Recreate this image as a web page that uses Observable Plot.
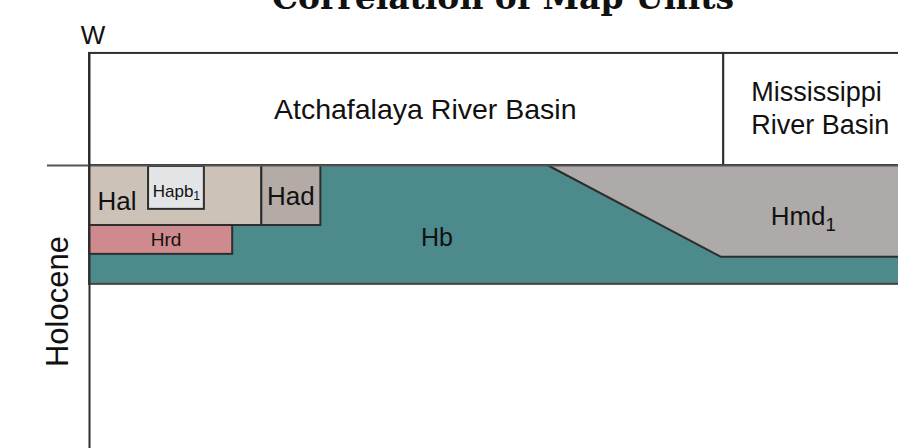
<!DOCTYPE html>
<html>
<head>
<meta charset="utf-8">
<script src="https://cdn.jsdelivr.net/npm/d3@7"></script>
<script src="https://cdn.jsdelivr.net/npm/@observablehq/plot@0.6"></script>
<style>
  html, body { margin: 0; padding: 0; background: #fff; overflow: hidden; }
</style>
</head>
<body>
<div id="chart"></div>
<script>
// ---- Data (diagram units: x = relative distance W→E, y = relative depth/age, 0 = top of Holocene units)
const unitNames = ["Hb", "Hal", "Hapb₁", "Had", "Hrd"];
const unitX1 = [0, 0, 7.3, 21.3, 0];
const unitX2 = [101, 21.3, 14.2, 28.6, 17.7];
const unitY1 = [0, 0, 0.35, 0, 21.2];
const unitY2 = [42, 21.2, 15.5, 21.2, 31.4];

// Hmd1 wedge (top and base along x)
const hmdX = [56.7, 78.0, 101];
const hmdTop = [0, 0, 0];
const hmdBase = [0, 32.2, 32.2];

// Basin header
const basinNames = ["Atchafalaya River Basin", "Mississippi\nRiver Basin"];
const basinX1 = [0, 78.4];
const basinX2 = [78.4, 101];
const headerTop = -39.6;

// Unit labels
const labelText = ["Hal", "Hapb₁", "Had", "Hrd", "Hb", "Hmd₁"];
const labelX = [0.99, 10.75, 24.9, 9.46, 42.95, 84.2];
const labelY = [15.9, 11.0, 14.1, 28.3, 28.6, 21.2];

const colors = {
  "Hb": "#4d8a8b",
  "Hal": "#cdc2b8",
  "Hapb₁": "#e3e4e6",
  "Had": "#b4aaa6",
  "Hrd": "#cf8a8d",
  "Hmd₁": "#aeaaa9"
};
const labelSize = {"Hal": 26, "Hapb₁": 17, "Had": 26, "Hrd": 19, "Hb": 25, "Hmd₁": 26};
const startAnchored = new Set(["Hal", "Hmd₁"]);

const units = unitNames.map((n, i) => ({name: n, x1: unitX1[i], x2: unitX2[i], y1: unitY1[i], y2: unitY2[i]}));
const hmd = hmdX.map((x, i) => ({x, top: hmdTop[i], base: hmdBase[i]}));
const basins = basinNames.map((n, i) => ({name: n, x1: basinX1[i], x2: basinX2[i]}));
const labels = labelText.map((t, i) => ({t, x: labelX[i], y: labelY[i]}));

const FONT = "Liberation Sans, Arial, sans-serif";
const LINE = "#2e2e2e";

const chart = Plot.plot({
  width: 898,
  height: 448,
  marginTop: 0, marginRight: 0, marginBottom: 0, marginLeft: 0,
  x: {domain: [0, 100], range: [89, 898], axis: null},
  y: {domain: [0, 100], range: [165, 448], axis: null},
  style: {fontFamily: FONT, overflow: "visible"},
  marks: [
    Plot.rect(units.filter(d => d.name === "Hb"), {x1: "x1", x2: "x2", y1: "y1", y2: "y2", fill: d => colors[d.name], stroke: "#444", strokeWidth: 2}),
    Plot.areaY(hmd, {x: "x", y1: "top", y2: "base", fill: colors["Hmd₁"], curve: "linear"}),
    Plot.line(hmd, {x: "x", y: "base", stroke: LINE, strokeWidth: 2}),
    Plot.rect(units.filter(d => d.name !== "Hb"), {x1: "x1", x2: "x2", y1: "y1", y2: "y2", fill: d => colors[d.name], stroke: LINE, strokeWidth: 2}),
    Plot.rect(basins, {x1: "x1", x2: "x2", y1: headerTop, y2: 0, fill: "white", stroke: LINE, strokeWidth: 2}),
    Plot.ruleY([0], {x1: -5.2, x2: 101, stroke: "#555", strokeWidth: 2}),
    Plot.ruleX([0], {y1: headerTop, y2: 100, stroke: LINE, strokeWidth: 2}),
    Plot.text([basins[0]], {x: 41.5, y: -16.6, text: "name", fontSize: 28.5, fill: "#111", lineAnchor: "bottom"}),
    Plot.text([basins[1]], {x: 81.8, y: -11.3, text: "name", fontSize: 27, fill: "#111", textAnchor: "start", lineAnchor: "bottom", lineHeight: 1.22}),
    Plot.text(labels.filter(d => !startAnchored.has(d.t)), {x: "x", y: "y", text: "t", fontSize: d => labelSize[d.t], textAnchor: "middle", lineAnchor: "bottom", fill: "#111"}),
    Plot.text(labels.filter(d => startAnchored.has(d.t)), {x: "x", y: "y", text: "t", fontSize: d => labelSize[d.t], textAnchor: "start", lineAnchor: "bottom", fill: "#111"}),
    Plot.text(["Holocene"], {x: -2.6, y: 48.1, text: d => d, rotate: -90, fontSize: 31, lineAnchor: "bottom", fill: "#111"}),
    Plot.text(["W"], {x: 0.43, y: -43.1, text: d => d, fontSize: 26, lineAnchor: "bottom", fill: "#111"}),
    Plot.text(["Correlation of Map Units"], {x: 51.1, y: -55.4, text: d => d, fontSize: 33, fontWeight: "bold", fontFamily: "DejaVu Serif, serif", lineAnchor: "bottom", fill: "#111"})
  ]
});

// render the "₁" subscripts as real subscript digits
d3.select(chart).selectAll("text").each(function() {
  const t = this.textContent;
  if (t.includes("₁")) {
    const el = d3.select(this);
    el.text(t.replace("₁", ""));
    el.append("tspan").attr("dy", "0.3em").attr("font-size", "0.72em").text("1");
  }
});
document.getElementById("chart").appendChild(chart);
</script>
</body>
</html>
